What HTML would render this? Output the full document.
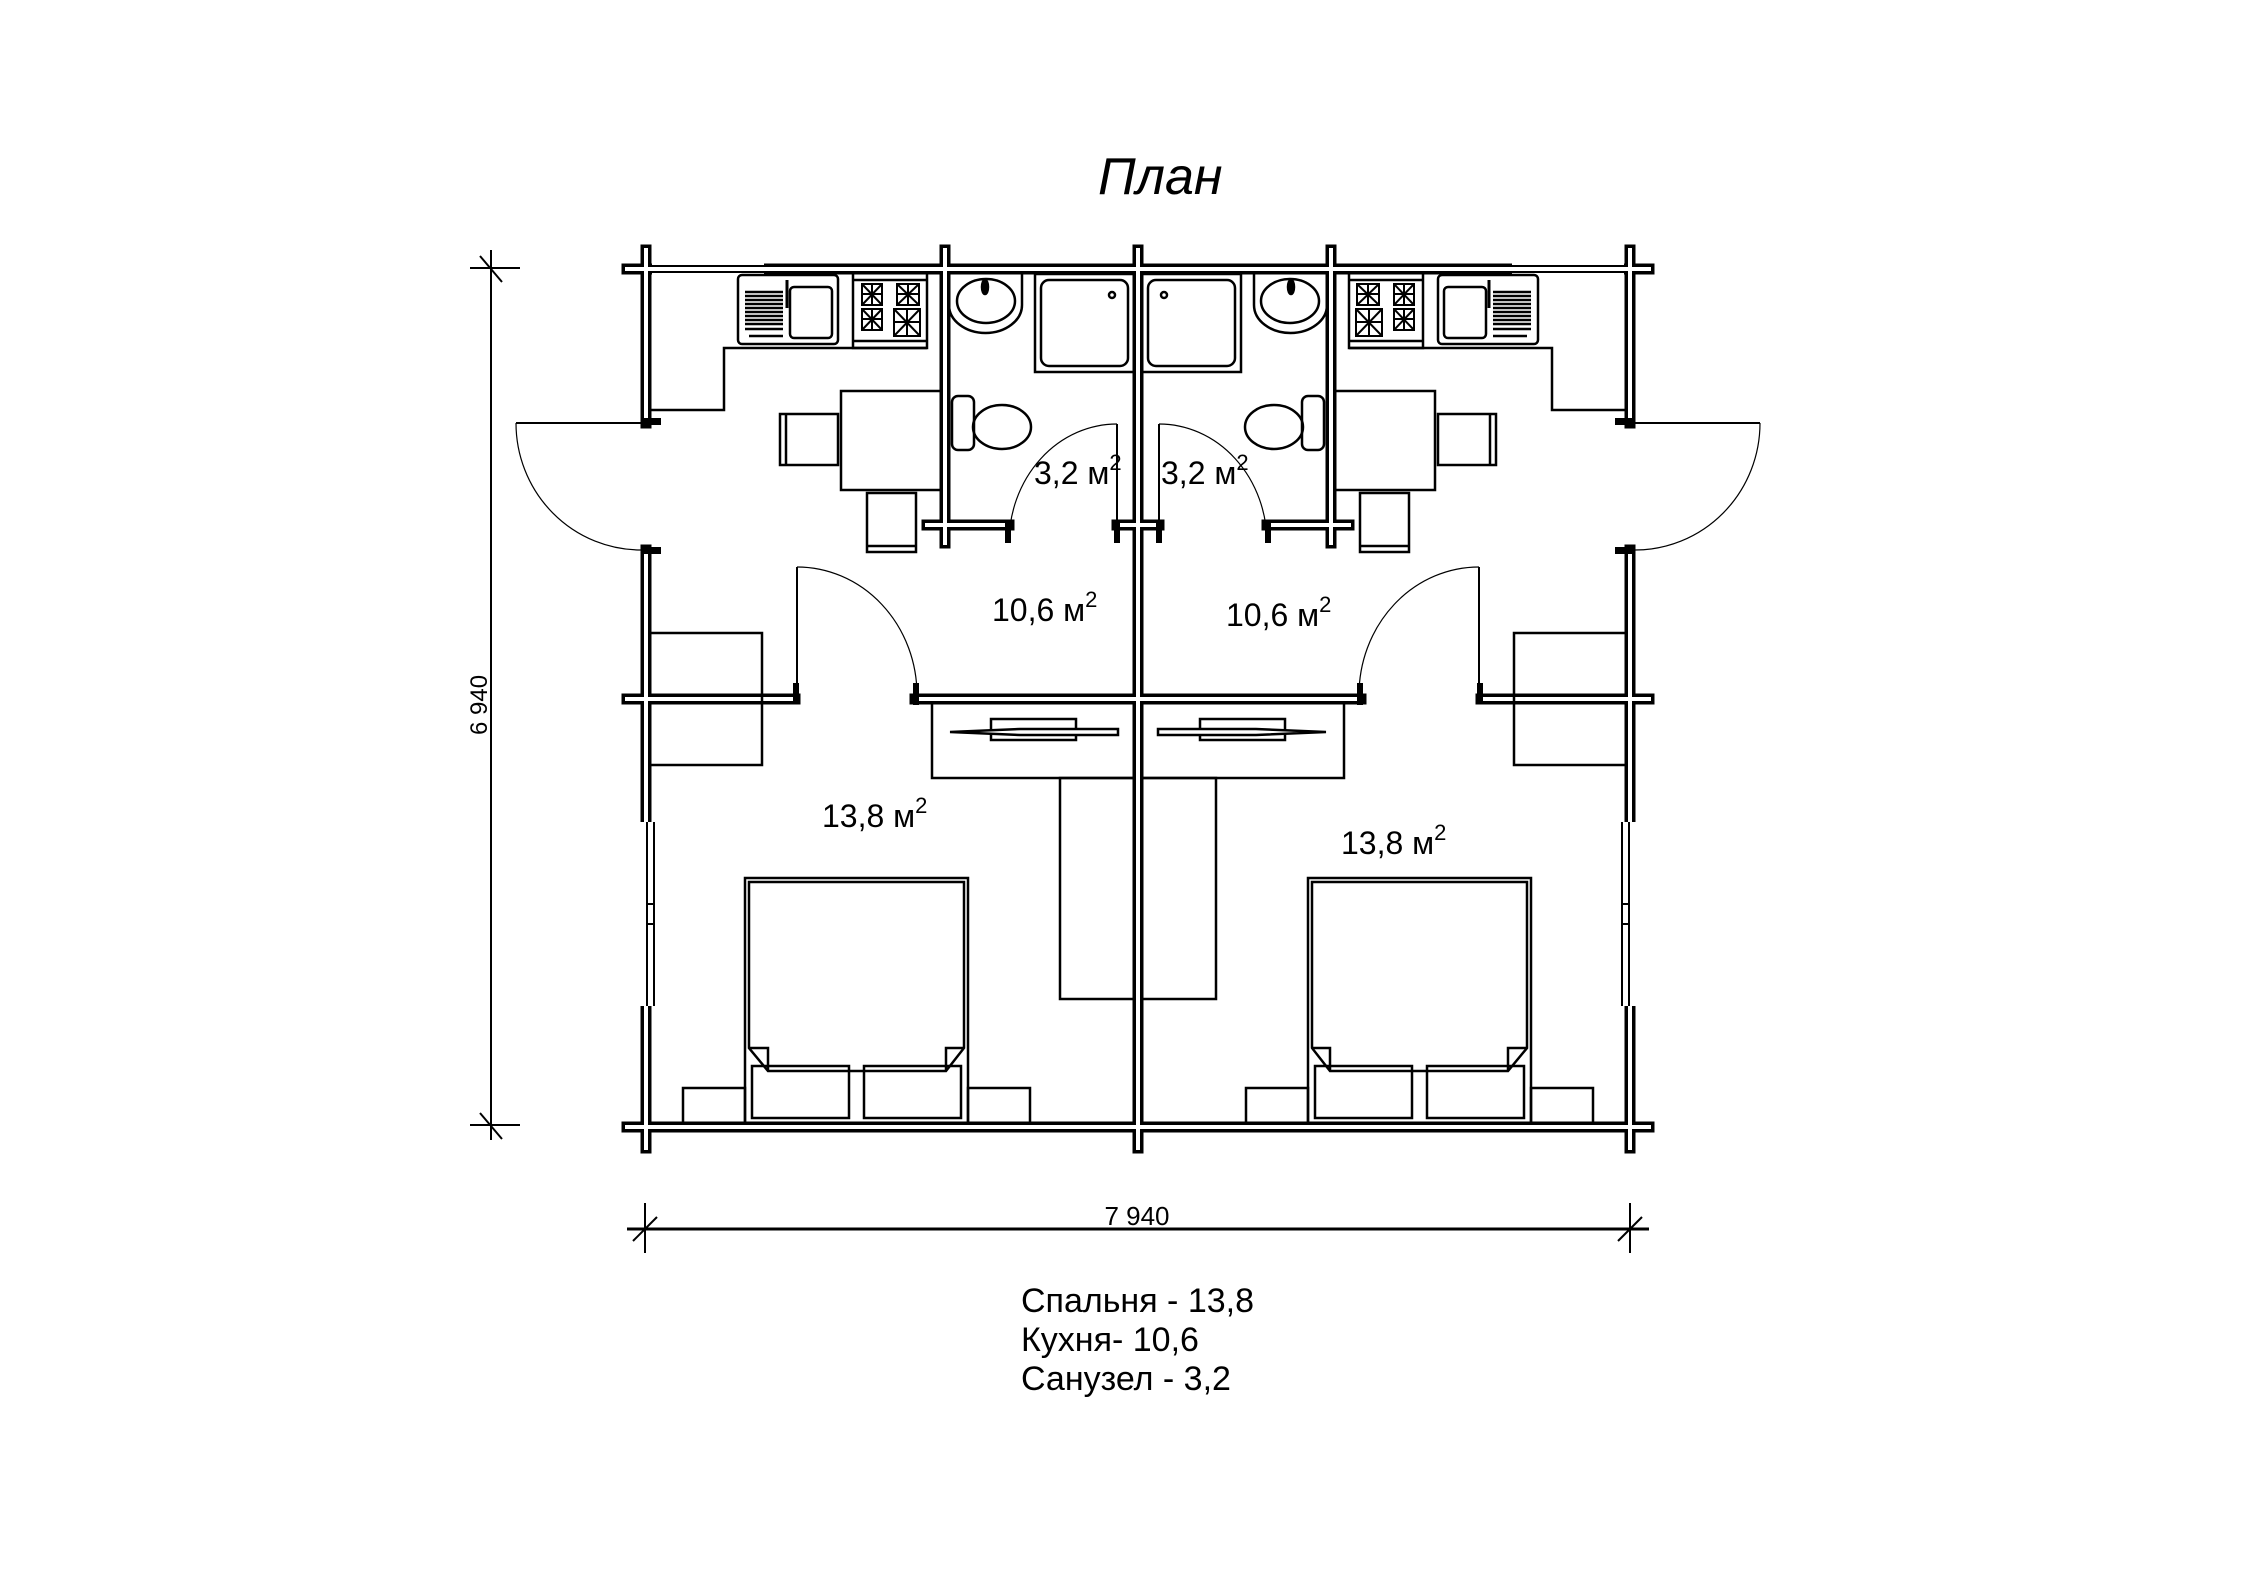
<!DOCTYPE html>
<html><head><meta charset="utf-8"><style>
html,body{margin:0;padding:0;background:#fff;}
svg{display:block}
text{font-family:"Liberation Sans",sans-serif;fill:#000}
</style></head><body>
<svg width="2245" height="1587" viewBox="0 0 2245 1587" xmlns="http://www.w3.org/2000/svg">
<text x="1098" y="194" font-size="52" font-style="italic">План</text>

<!-- dimensions -->
<g stroke="#000" stroke-width="2" fill="none">
<line x1="491" y1="250" x2="491" y2="1140"/>
<line x1="470" y1="268" x2="520" y2="268"/>
<line x1="480" y1="256" x2="502" y2="282"/>
<line x1="470" y1="1125" x2="520" y2="1125"/>
<line x1="480" y1="1113" x2="502" y2="1139"/>
<line x1="627" y1="1229" x2="1649" y2="1229" stroke-width="3"/>
<line x1="645" y1="1203" x2="645" y2="1253"/>
<line x1="633" y1="1241" x2="657" y2="1217"/>
<line x1="1630" y1="1203" x2="1630" y2="1253"/>
<line x1="1618" y1="1241" x2="1642" y2="1217"/>
</g>
<text x="0" y="0" font-size="24" transform="translate(487,735) rotate(-90)">6 940</text>
<text x="1137" y="1225" font-size="26" text-anchor="middle">7 940</text>

<!-- walls -->
<g fill="none" stroke-linecap="square">
<g stroke="#000" stroke-width="11">
<path d="M627 269H1649 M646 250V423 M646 550V820 M646 1008V1148 M1630 250V423 M1630 550V820 M1630 1008V1148 M627 1127H1649 M1138 250V1148 M945 250V543 M1331 250V543 M927 525H1009 M1117 525H1159 M1267 525H1349 M627 699H795 M915 699H1361 M1481 699H1649"/>
</g>
<g stroke="#fff" stroke-width="4">
<path d="M627 269H1649 M646 250V423 M646 550V820 M646 1008V1148 M1630 250V423 M1630 550V820 M1630 1008V1148 M627 1127H1649 M1138 250V1148 M945 250V543 M1331 250V543 M927 525H1009 M1117 525H1159 M1267 525H1349 M627 699H795 M915 699H1361 M1481 699H1649"/>
</g>
</g>
<!-- top windows (thin) -->
<rect x="652" y="262" width="112" height="14" fill="#fff"/>
<rect x="1512" y="262" width="112" height="14" fill="#fff"/>
<g stroke="#000" stroke-width="2" fill="none">
<line x1="652" y1="266" x2="764" y2="266"/><line x1="652" y1="272" x2="764" y2="272"/>
<line x1="1512" y1="266" x2="1624" y2="266"/><line x1="1512" y1="272" x2="1624" y2="272"/>
</g>
<!-- side windows -->
<rect x="639" y="822" width="14" height="184" fill="#fff"/>
<rect x="1623" y="822" width="14" height="184" fill="#fff"/>
<g stroke="#000" stroke-width="2" fill="none">
<line x1="647" y1="822" x2="647" y2="1006"/><line x1="654" y1="822" x2="654" y2="1006"/>
<line x1="1629" y1="822" x2="1629" y2="1006"/><line x1="1622" y1="822" x2="1622" y2="1006"/>
<rect x="647" y="904" width="7" height="20"/><rect x="1622" y="904" width="7" height="20"/>
</g>
<!-- door jambs -->
<g fill="#000">
<rect x="641" y="418" width="20" height="7"/><rect x="641" y="547" width="20" height="7"/>
<rect x="1615" y="418" width="20" height="7"/><rect x="1615" y="547" width="20" height="7"/>
<rect x="1005" y="520" width="6" height="23"/><rect x="1114" y="520" width="6" height="23"/>
<rect x="1156" y="520" width="6" height="23"/><rect x="1265" y="520" width="6" height="23"/>
<rect x="793" y="683" width="6" height="20"/><rect x="913" y="683" width="6" height="22"/>
<rect x="1477" y="683" width="6" height="20"/><rect x="1357" y="683" width="6" height="22"/>
</g>

<!-- doors -->
<g stroke="#000" fill="none">
<line x1="516" y1="423" x2="641" y2="423" stroke-width="2"/>
<path d="M516 423 A125 127 0 0 0 641 550" stroke-width="1.2"/>
<line x1="1635" y1="423" x2="1760" y2="423" stroke-width="2"/>
<path d="M1760 423 A125 127 0 0 1 1635 550" stroke-width="1.2"/>
<line x1="1117" y1="424" x2="1117" y2="520" stroke-width="2"/>
<path d="M1117 424 A108 119 0 0 0 1009 543" stroke-width="1.2"/>
<line x1="1159" y1="424" x2="1159" y2="520" stroke-width="2"/>
<path d="M1159 424 A108 119 0 0 1 1267 543" stroke-width="1.2"/>
<line x1="797" y1="567" x2="797" y2="690" stroke-width="2"/>
<path d="M797 567 A120 128 0 0 1 917 695" stroke-width="1.2"/>
<line x1="1479" y1="567" x2="1479" y2="690" stroke-width="2"/>
<path d="M1479 567 A120 128 0 0 0 1359 695" stroke-width="1.2"/>
</g>

<!-- furniture left half, mirrored to right -->
<g id="half" stroke="#000" stroke-width="2.5" fill="none">
<path d="M651 410H724V348H927"/>
<rect x="738" y="275" width="100" height="69" rx="4"/>
<rect x="790" y="287" width="42" height="51" rx="4"/>
<line x1="787" y1="280" x2="787" y2="308" stroke-width="3"/>
<g stroke-width="2.5">
<line x1="745" y1="292" x2="783" y2="292"/><line x1="745" y1="296" x2="783" y2="296"/><line x1="745" y1="300" x2="783" y2="300"/><line x1="745" y1="304" x2="783" y2="304"/><line x1="745" y1="308" x2="783" y2="308"/><line x1="745" y1="312" x2="783" y2="312"/><line x1="745" y1="316" x2="783" y2="316"/><line x1="745" y1="320" x2="783" y2="320"/><line x1="745" y1="324" x2="783" y2="324"/><line x1="745" y1="329" x2="783" y2="329"/><line x1="749" y1="336" x2="783" y2="336"/>
</g>
<rect x="853" y="273" width="74" height="75"/>
<line x1="853" y1="280" x2="927" y2="280"/><line x1="853" y1="341" x2="927" y2="341"/>
<g stroke-width="2">
<rect x="862" y="284" width="20" height="21"/><path d="M862 284L882 305M882 284L862 305M872 284V305M862 294H882"/>
<rect x="897" y="284" width="22" height="21"/><path d="M897 284L919 305M919 284L897 305M908 284V305M897 294H919"/>
<rect x="862" y="309" width="20" height="21"/><path d="M862 309L882 330M882 309L862 330M872 309V330M862 319H882"/>
<rect x="894" y="309" width="26" height="27"/><path d="M894 309L920 336M920 309L894 336M907 309V336M894 322H920"/>
</g>
<rect x="841" y="391" width="100" height="99"/>
<rect x="780" y="414" width="58" height="51"/><line x1="786" y1="414" x2="786" y2="465"/>
<rect x="867" y="493" width="49" height="59"/><line x1="867" y1="546" x2="916" y2="546"/>
<path d="M949 273H1022V305A36.5 28 0 0 1 949 305Z"/>
<ellipse cx="986" cy="301" rx="29" ry="22"/>
<ellipse cx="985" cy="287" rx="3" ry="7" fill="#000"/>
<rect x="1035" y="274" width="99" height="98"/>
<rect x="1041" y="280" width="87" height="86" rx="8"/>
<circle cx="1112" cy="295" r="3"/>
<rect x="952" y="396" width="22" height="54" rx="6"/>
<ellipse cx="1002" cy="427" rx="29" ry="22"/>
<path d="M651 633H762V765H651"/>
<rect x="932" y="703" width="202" height="75"/>
<rect x="991" y="719" width="85" height="21"/>
<path d="M950 732L1020 729H1118V735H1020Z" fill="#fff"/>
<rect x="1060" y="778" width="74" height="221"/>
<rect x="745" y="878" width="223" height="245"/>
<path d="M749 882H964V1048L946 1071H768L749 1048Z"/>
<path d="M749 1048H768V1071M964 1048H946V1071"/>
<rect x="752" y="1066" width="97" height="52"/>
<rect x="864" y="1066" width="97" height="52"/>
<rect x="683" y="1088" width="62" height="35"/>
<rect x="968" y="1088" width="62" height="35"/>
</g>
<use href="#half" transform="translate(2276,0) scale(-1,1)"/>

<!-- area labels -->
<g font-size="32">
<text x="1034" y="484">3,2 м<tspan font-size="22" dy="-14">2</tspan></text>
<text x="1161" y="484">3,2 м<tspan font-size="22" dy="-14">2</tspan></text>
<text x="992" y="621">10,6 м<tspan font-size="22" dy="-14">2</tspan></text>
<text x="1226" y="626">10,6 м<tspan font-size="22" dy="-14">2</tspan></text>
<text x="822" y="827">13,8 м<tspan font-size="22" dy="-14">2</tspan></text>
<text x="1341" y="854">13,8 м<tspan font-size="22" dy="-14">2</tspan></text>
</g>
<g font-size="34">
<text x="1021" y="1312">Спальня - 13,8</text>
<text x="1021" y="1351">Кухня- 10,6</text>
<text x="1021" y="1390">Санузел - 3,2</text>
</g>
</svg>
</body></html>
